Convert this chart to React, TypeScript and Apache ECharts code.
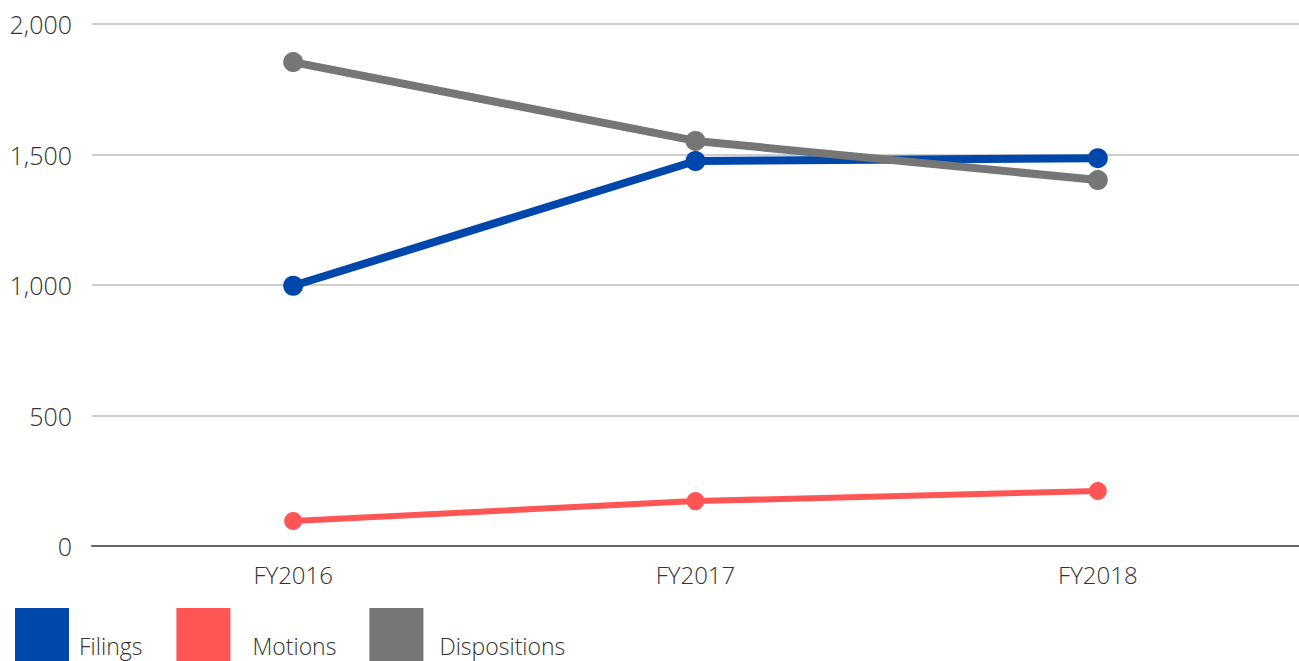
import React, { useEffect, useRef } from "react";
import * as echarts from "echarts";

const categories = ["FY2016", "FY2017", "FY2018"];
const filings = [997, 1475, 1486];
const motions = [96, 172, 211];
const dispositions = [1854, 1552, 1402];
const yTicks = { min: 0, max: 2000, interval: 500 };
const legendNames = ["Filings", "Motions", "Dispositions"];

const FONT = "'Open Sans', 'Noto Sans', sans-serif";

export default function App() {
  const ref = useRef<HTMLDivElement>(null);
  useEffect(() => {
    document.body.style.margin = "0";
    if (!ref.current) return;
    const chart = echarts.init(ref.current, null, { renderer: "svg" });
    const lineSeries = (name: string, data: number[], color: string, width: number, size: number) => ({
      name,
      type: "line",
      data,
      symbol: "circle",
      symbolSize: size,
      showSymbol: true,
      itemStyle: { color },
      lineStyle: { color, width },
      emphasis: { disabled: true },
    });
    const richBase = {
      color: "#333",
      fontSize: 23,
      fontWeight: 300,
      fontFamily: FONT,
      lineHeight: 26,
    };
    chart.setOption({
      animation: false,
      textStyle: { fontFamily: FONT },
      grid: { left: 92, right: -3, top: 24, bottom: 115, containLabel: false },
      xAxis: {
        type: "category",
        data: categories,
        boundaryGap: true,
        axisLine: { show: true, lineStyle: { color: "#666", width: 2 } },
        axisTick: { show: false },
        axisLabel: { color: "#333", fontSize: 24, fontWeight: 300, fontFamily: FONT, margin: 16 },
      },
      yAxis: {
        type: "value",
        min: yTicks.min,
        max: yTicks.max,
        interval: yTicks.interval,
        axisLine: { show: false },
        axisTick: { show: false },
        splitLine: { lineStyle: { color: "#bdbdbd", width: 1.5 } },
        axisLabel: {
          color: "#333",
          fontSize: 25,
          fontWeight: 300,
          fontFamily: FONT,
          margin: 20,
          formatter: (v: number) => v.toLocaleString("en-US"),
        },
      },
      legend: {
        left: 10,
        top: 603,
        icon: "rect",
        itemWidth: 54,
        itemHeight: 54,
        itemGap: 33,
        selectedMode: false,
        formatter: (name: string) => {
          const idx = legendNames.indexOf(name);
          return `{t${idx}|${name}}`;
        },
        textStyle: {
          color: "#333",
          fontSize: 23,
          fontWeight: 300,
          fontFamily: FONT,
          rich: {
            t0: { ...richBase, padding: [21, 1, 0, 5] },
            t1: { ...richBase, padding: [21, 0, 0, 17] },
            t2: { ...richBase, padding: [21, 0, 0, 11] },
          },
        },
        data: legendNames,
      },
      series: [
        lineSeries(legendNames[0], filings, "#0047ab", 8, 20),
        lineSeries(legendNames[1], motions, "#ff5555", 6, 18),
        lineSeries(legendNames[2], dispositions, "#767676", 8, 20),
      ],
    });
    return () => chart.dispose();
  }, []);
  return <div ref={ref} style={{ width: 1299, height: 661 }} />;
}
